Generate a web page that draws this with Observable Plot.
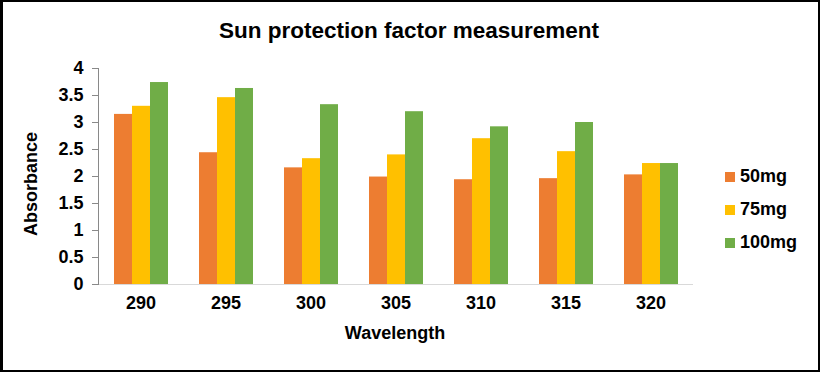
<!DOCTYPE html>
<html>
<head>
<meta charset="utf-8">
<script src="https://cdn.jsdelivr.net/npm/d3@7"></script>
<script src="https://cdn.jsdelivr.net/npm/@observablehq/plot@0.6"></script>
<style>
  html, body { margin: 0; padding: 0; background: #fff; }
  #wrap { position: relative; width: 820px; height: 372px; box-sizing: border-box; overflow: hidden;
          font-family: "Liberation Sans", Arial, sans-serif; font-weight: bold; color: #000; }
  #border { position: absolute; left: 0; top: 0; width: 820px; height: 372px; box-sizing: border-box;
            border: 2px solid #000; border-left-width: 3px; pointer-events: none; }
  #chart { position: absolute; left: 0; top: 0; }
  .lbl { position: absolute; white-space: nowrap; }
  #title { left: 409px; top: 31px; transform: translate(-50%, -50%); font-size: 22.5px; }
  #xlabel { left: 395px; top: 333px; transform: translate(-50%, -50%); font-size: 18px; }
  #ylabel { left: 31px; top: 184px; transform: translate(-50%, -50%) rotate(-90deg); font-size: 18px; }
  #legend { position: absolute; left: 725px; top: 160px; }
  .item { display: flex; align-items: center; height: 33px; font-size: 18px; }
  .sw { width: 10px; height: 10px; margin-right: 5px; }
</style>
</head>
<body>
<div id="wrap">
  <div id="chart"></div>
  <div class="lbl" id="title">Sun protection factor measurement</div>
  <div class="lbl" id="xlabel">Wavelength</div>
  <div class="lbl" id="ylabel">Absorbance</div>
  <div id="legend"></div>
  <div id="border"></div>
</div>
<script>
const wavelengths = [290, 295, 300, 305, 310, 315, 320];
const series = ["50mg", "75mg", "100mg"];
const mg50 = [3.15, 2.44, 2.16, 1.99, 1.94, 1.96, 2.03];
const mg75 = [3.30, 3.46, 2.33, 2.40, 2.70, 2.46, 2.24];
const mg100 = [3.74, 3.63, 3.33, 3.20, 2.92, 3.00, 2.24];
const colors = ["#ED7D31", "#FFC000", "#70AD47"];
const yTicks = [0, 0.5, 1, 1.5, 2, 2.5, 3, 3.5, 4];

const valuesBySeries = [mg50, mg75, mg100];
const rows = [];
wavelengths.forEach((w, i) => {
  series.forEach((s, j) => rows.push({wavelength: w, series: s, value: valuesBySeries[j][i]}));
});

const chart = Plot.plot({
  width: 820,
  height: 372,
  marginLeft: 97,
  marginRight: 127,
  marginTop: 68,
  marginBottom: 88,
  style: {fontFamily: "'Liberation Sans', Arial, sans-serif", fontWeight: "bold", color: "#000", background: "transparent", overflow: "visible"},
  fx: {domain: wavelengths, padding: 0, label: null, axis: null},
  x: {domain: series, paddingInner: 0, paddingOuter: 0.74, axis: null},
  y: {domain: [0, 4], axis: null},
  color: {domain: series, range: colors},
  marks: [
    Plot.barY(rows, {fx: "wavelength", x: "series", y: "value", fill: "series"}),
    Plot.ruleY([0], {stroke: "#D9D9D9", strokeWidth: 1}),
    Plot.frame({anchor: "left", facetAnchor: "left", stroke: "#898989"}),
    Plot.axisY({ticks: yTicks, tickFormat: d => String(d), tickSize: 6, tickPadding: 9, stroke: "#898989", label: null, fontSize: 18, fontWeight: "bold"}),
    Plot.axisFx({anchor: "bottom", tickSize: 0, tickPadding: 12, label: null, fontSize: 18, fontWeight: "bold", tickFormat: d => String(d)})
  ]
});
document.getElementById("chart").appendChild(chart);

const legend = document.getElementById("legend");
series.forEach((s, j) => {
  const it = document.createElement("div");
  it.className = "item";
  const sw = document.createElement("div");
  sw.className = "sw";
  sw.style.background = colors[j];
  const t = document.createElement("span");
  t.textContent = s;
  it.appendChild(sw);
  it.appendChild(t);
  legend.appendChild(it);
});
</script>
</body>
</html>
